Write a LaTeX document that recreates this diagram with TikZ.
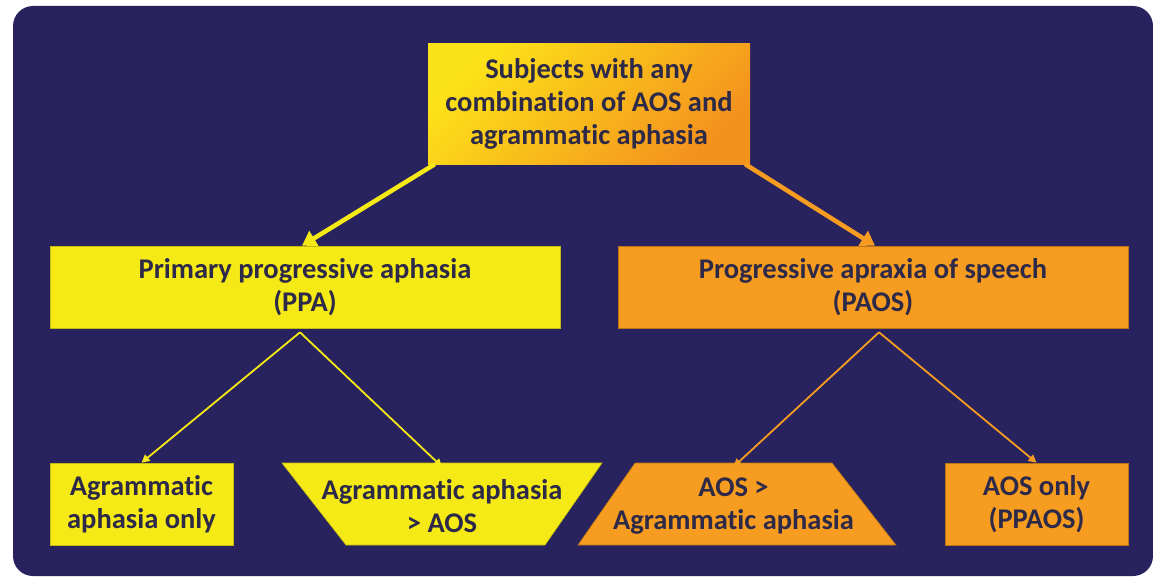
\documentclass[tikz,border=0pt]{standalone}
\usepackage{fontspec}
\setmainfont[Ligatures=NoCommon]{Carlito}
\usepackage{tikz}
\usetikzlibrary{arrows.meta}

\definecolor{navy}{RGB}{40,35,94}
\definecolor{boxyellow}{RGB}{245,234,22}
\definecolor{boxorange}{RGB}{246,156,32}
\definecolor{topyellow}{RGB}{252,226,24}
\definecolor{toporange}{RGB}{244,146,30}
\definecolor{inktext}{RGB}{45,41,72}

\tikzset{
  box/.style={minimum height=82pt, inner sep=0pt, align=center, text=inktext,
    font=\fontsize{28.5}{33}\selectfont\bfseries},
  ybox/.style={box, fill=boxyellow, draw=boxyellow!80!black, line width=.6pt},
  obox/.style={box, fill=boxorange, draw=boxorange!75!black, line width=.6pt},
  bigarrow/.style={line width=4.5pt, -{Triangle[length=14pt,width=17pt]}},
  smallarrow/.style={line width=1.8pt, -{Triangle[length=8pt,width=8pt]}},
}

\begin{document}
\begin{tikzpicture}[x=1pt,y=-1pt]
\useasboundingbox (0,0) rectangle (1153,578);
\fill[white] (0,0) rectangle (1153,578);
\fill[navy,rounded corners=20pt] (13,6) rectangle (1153,576);

\node[box, minimum width=322pt, minimum height=120pt,
  top color=topyellow, bottom color=toporange, shading angle=45] (top) at (589,104)
  {Subjects with any\\combination of AOS and\\agrammatic aphasia};

\node[ybox, minimum width=510pt] (ppa) at (305,287) {Primary progressive aphasia\\(PPA)};
\node[obox, minimum width=510pt] (paos) at (873,287) {Progressive apraxia of speech\\(PAOS)};

% bottom row, the two middle ones are trapezoids
\node[ybox, minimum width=183pt] (agonly) at (141.5,504) {Agrammatic\\aphasia only};
\filldraw[fill=boxyellow,draw=boxyellow!80!black,line width=.6pt] (282,463) -- (602,463) -- (545,545) -- (346,545) -- cycle;
\node[box, minimum width=320pt] (agaos) at (442,506) {Agrammatic aphasia\\> AOS};
\filldraw[fill=boxorange,draw=boxorange!75!black,line width=.6pt] (635,463) -- (832,463) -- (896,545) -- (578,545) -- cycle;
\node[box, minimum width=197pt] (aosag) at (733.5,506) {AOS >\\Agrammatic aphasia};
\node[obox, minimum width=183pt] (aosonly) at (1036.5,504) {AOS only\\(PPAOS)};

\draw[bigarrow,boxyellow] ([xshift=7pt]top.south west) -- ([xshift=-3pt]ppa.north);
\draw[bigarrow,boxorange] ([xshift=-5pt]top.south east) -- ([xshift=2pt]paos.north);

\draw[smallarrow,boxyellow] ([xshift=-5pt,yshift=-4pt]ppa.south) -- (agonly.north);
\draw[smallarrow,boxyellow] ([xshift=-5pt,yshift=-4pt]ppa.south) -- ([yshift=-2pt]agaos.north);
\draw[smallarrow,boxorange] ([xshift=6pt,yshift=-4pt]paos.south) -- ([yshift=-2pt]aosag.north);
\draw[smallarrow,boxorange] ([xshift=6pt,yshift=-4pt]paos.south) -- (aosonly.north);

\end{tikzpicture}
\end{document}
